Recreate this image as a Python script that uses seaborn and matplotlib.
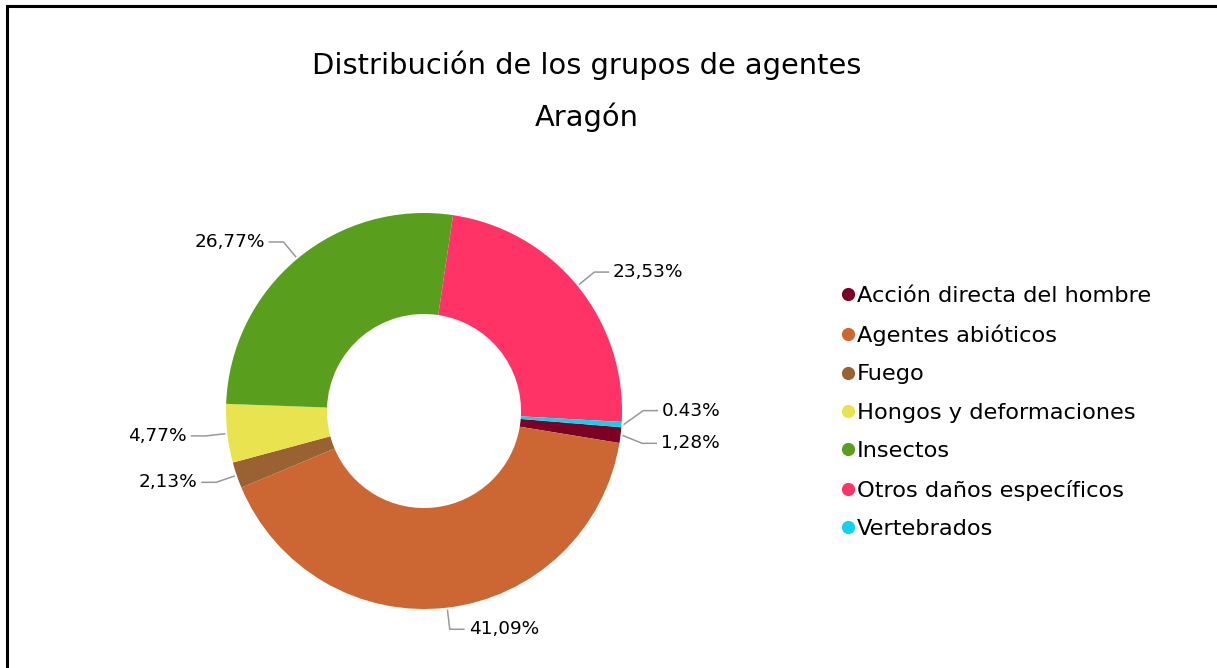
import matplotlib
matplotlib.use("Agg")
import matplotlib.pyplot as plt
from matplotlib.lines import Line2D
from matplotlib.patches import Rectangle
import numpy as np
import seaborn as sns

categories = ["Acción directa del hombre", "Agentes abióticos", "Fuego",
              "Hongos y deformaciones", "Insectos", "Otros daños específicos",
              "Vertebrados"]
values = [1.28, 41.09, 2.13, 4.77, 26.77, 23.53, 0.43]
value_labels = ["1,28%", "41,09%", "2,13%", "4,77%", "26,77%", "23,53%", "0.43%"]
colors = ["#7b0024", "#cc6633", "#9a6233", "#e8e34f", "#5a9e1e", "#ff3366", "#11d1ee"]

sns.set_theme(style="white")
plt.rcParams['font.family'] = ['DejaVu Sans']

W, H = 1217, 668
fig = plt.figure(figsize=(W / 100, H / 100), dpi=100)

# pie geometry in pixels
R = 198
cx, cy = 424, 411
xl, yl = 1.4, 1.3
ax = fig.add_axes([(cx - xl * R) / W, (H - cy - yl * R) / H, 2 * xl * R / W, 2 * yl * R / H])

wedges, _ = ax.pie(values, colors=colors, startangle=-4.7, counterclock=False,
                   radius=1, wedgeprops=dict(width=0.51, edgecolor='none'))
ax.set_xlim(-xl, xl)
ax.set_ylim(-yl, yl)

# leader lines + labels
info = []
for w, lab in zip(wedges, value_labels):
    mid = np.deg2rad((w.theta1 + w.theta2) / 2)
    ex, ey = np.cos(mid), np.sin(mid)
    bx, by = 1.11 * ex, 1.11 * ey
    side = 1 if ex >= 0 else -1
    info.append(dict(ex=ex, ey=ey, bx=bx, by=by, side=side, lab=lab))

gap = 0.165
for side in (1, -1):
    grp = sorted([d for d in info if d['side'] == side], key=lambda d: -d['by'])
    i = 0
    while i < len(grp):
        j = i
        while j + 1 < len(grp) and grp[j]['by'] - grp[j + 1]['by'] < gap:
            j += 1
        if j > i:
            cl = grp[i:j + 1]
            m = np.mean([d['by'] for d in cl])
            n = len(cl)
            for k, d in enumerate(cl):
                d['by'] = m + gap * ((n - 1) / 2 - k) + 0.025
        i = j + 1

for d in info:
    s = d['side']
    hx = d['bx'] + s * 0.075
    ax.plot([d['ex'] * 1.01, d['bx'], hx], [d['ey'] * 1.01, d['by'], d['by']],
            color='#999999', lw=1.1, solid_capstyle='butt')
    ax.text(hx + s * 0.02, d['by'], d['lab'], ha='left' if s > 0 else 'right',
            va='center', fontsize=13.3, color='black')

# titles
fig.text(587 / W, 1 - 65 / H, "Distribución de los grupos de agentes",
         ha='center', va='center', fontsize=20.8, color='black')
fig.text(587 / W, 1 - 117 / H, "Aragón", ha='center', va='center',
         fontsize=20.8, color='black')

# legend
handles = [Line2D([], [], marker='o', linestyle='none', markersize=9.5,
                  markerfacecolor=c, markeredgecolor='none') for c in colors]
fig.legend(handles, categories, loc='upper left', bbox_to_anchor=(841 / W, 1 - 286 / H),
           frameon=False, fontsize=16.2, labelspacing=0.82, handletextpad=0.12,
           handlelength=0.6, borderpad=0, borderaxespad=0, labelcolor='black')

# frame
fig.patches.append(Rectangle((7 / W, -0.1), 2, 1.1 - 6 / H, transform=fig.transFigure,
                             fill=False, edgecolor='black', linewidth=2.2))

fig.savefig("out.png", dpi=100)
